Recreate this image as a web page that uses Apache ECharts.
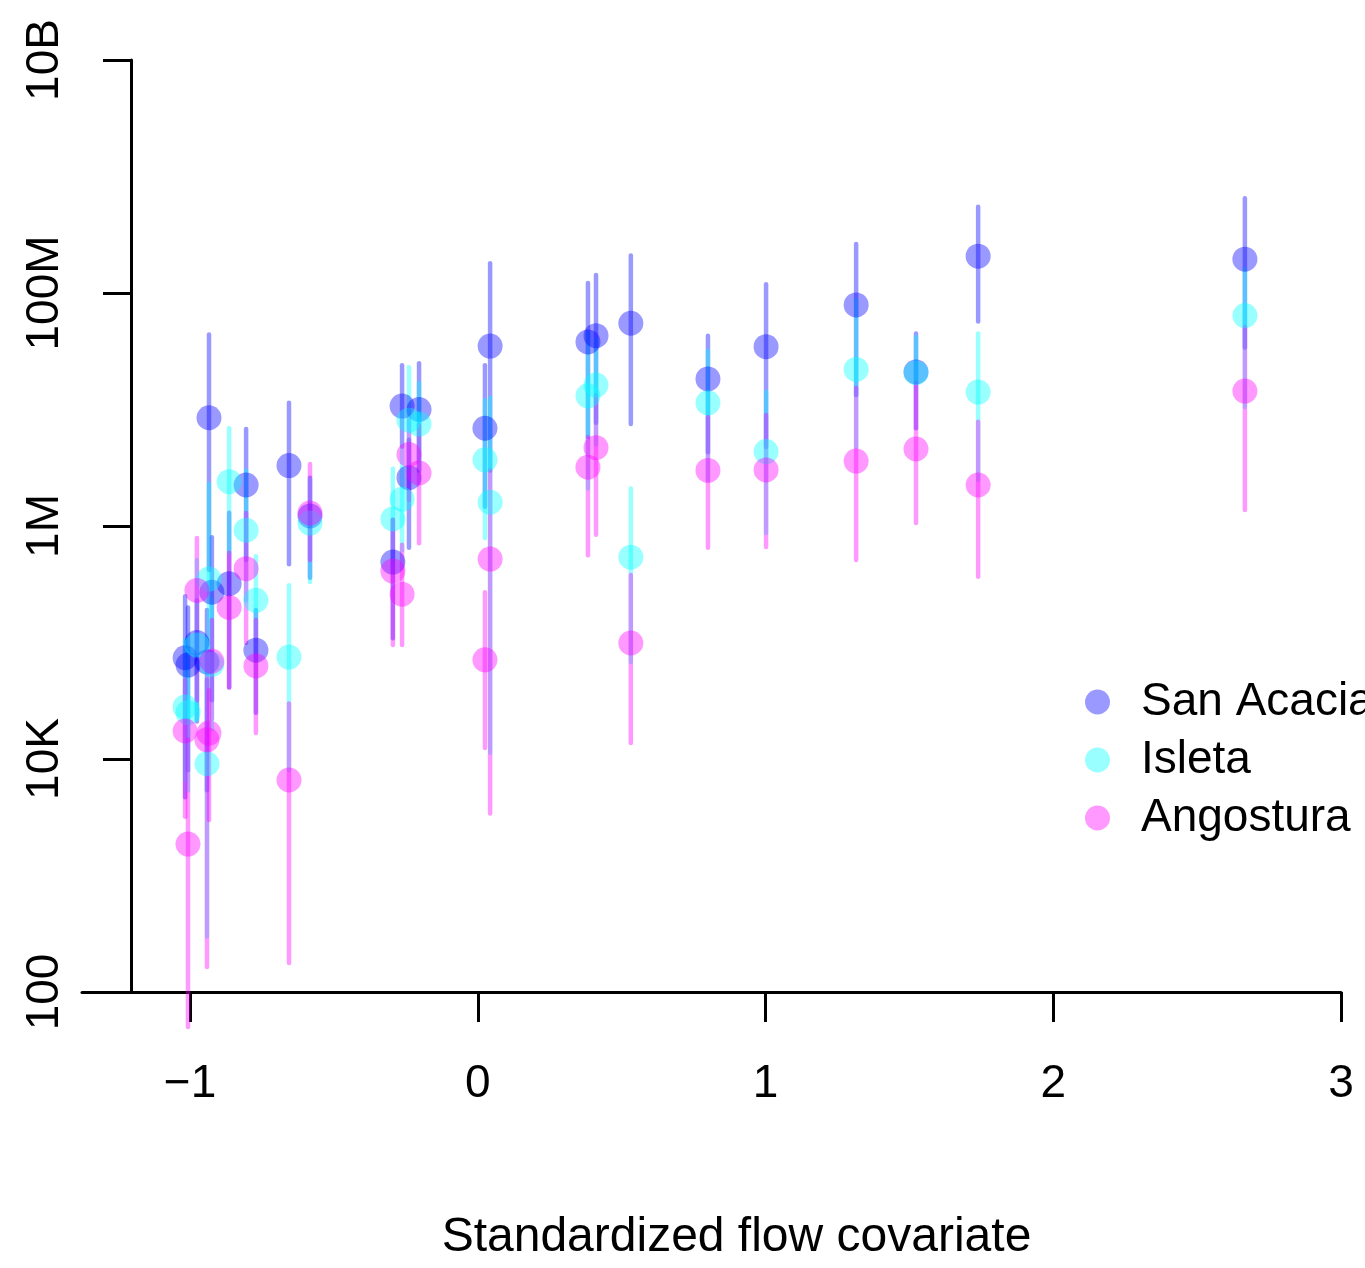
<!DOCTYPE html>
<html>
<head>
<meta charset="utf-8">
<script src="https://cdn.jsdelivr.net/npm/echarts@6/dist/echarts.min.js"></script>
<style>
html,body{margin:0;padding:0;background:#fff;}
#chart{width:1365px;height:1268px;}
</style>
</head>
<body>
<div id="chart"></div>
<script>
// Standardized flow covariate (shared x position for each year)
const flowCovariate = [-1.017, -1.007, -0.976, -0.941, -0.934, -0.924, -0.864, -0.805, -0.771, -0.656, -0.583, -0.295, -0.263, -0.239, -0.204, 0.025, 0.043, 0.383, 0.411, 0.532, 0.800, 1.002, 1.315, 1.523, 1.739, 2.666];

// San Acacia: estimate, lower and upper bound
const sanAcaciaEst = [7.4e4, 6.4e4, 1.0e5, 6.8e4, 8.5e6, 2.7e5, 3.2e5, 2.25e6, 8.6e4, 3.3e6, 1.22e6, 4.9e5, 1.07e7, 2.6e6, 1.0e7, 6.9e6, 3.5e7, 3.8e7, 4.3e7, 5.5e7, 1.83e7, 3.46e7, 7.9e7, 2.1e7, 2.07e8, 1.95e8];
const sanAcaciaLo  = [4.7e3, 8.0e3, 2.1e4, 5.4e3, 4.2e5, 3.2e4, 4.1e4, 5.1e5, 2.5e4, 4.7e5, 3.6e5, 1.09e5, 4.8e6, 6.5e5, 3.0e6, 1.46e6, 3.0e6, 5.8e6, 7.7e6, 7.5e6, 4.3e6, 4.77e6, 1.33e7, 6.9e6, 5.7e7, 3.4e7];
const sanAcaciaHi  = [2.5e5, 2.0e5, 2.3e5, 1.9e5, 4.4e7, 8.0e5, 1.3e6, 6.8e6, 1.9e5, 1.14e7, 2.6e6, 1.13e6, 2.4e7, 5.5e6, 2.5e7, 2.4e7, 1.8e8, 1.22e8, 1.43e8, 2.1e8, 4.3e7, 1.19e8, 2.64e8, 4.5e7, 5.5e8, 6.5e8];

// Isleta
const isletaEst = [2.8e4, 2.5e4, 9.5e4, 9.1e3, 3.5e5, 6.5e4, 2.4e6, 9.2e5, 2.3e5, 7.5e4, 1.06e6, 1.15e6, 1.7e6, 8.1e6, 7.5e6, 3.7e6, 1.6e6, 1.31e7, 1.62e7, 5.4e5, 1.14e7, 4.35e6, 2.21e7, 2.07e7, 1.41e7, 6.4e7];
const isletaLo  = [6.6e3, 5.4e3, 2.2e4, 3.0e2, 8.6e4, 1.8e4, 5.9e5, 2.3e5, 8.6e4, 8.0e3, 3.3e5, 5.1e5, 6.2e5, 3.0e6, 3.0e6, 7.9e5, 1.13e4, 2.1e6, 5.0e6, 6.8e4, 2.5e6, 8.7e5, 4.77e6, 1.69e7, 2.5e6, 1.05e7];
const isletaHi  = [1.05e5, 8.6e4, 5.1e5, 4.8e4, 2.3e6, 2.3e5, 6.9e6, 3.0e6, 5.5e5, 3.1e5, 2.5e6, 3.1e6, 4.5e6, 2.3e7, 1.69e7, 1.2e7, 1.26e7, 4.5e7, 3.95e7, 2.1e6, 3.2e7, 1.42e7, 8.7e7, 4.2e7, 4.5e7, 1.6e8];

// Angostura
const angosturaEst = [1.74e4, 1.86e3, 2.8e5, 1.46e4, 1.67e4, 6.9e4, 2.0e5, 4.3e5, 6.3e4, 6.6e3, 1.29e6, 4.1e5, 2.6e5, 4.1e6, 2.85e6, 7.1e4, 5.2e5, 3.2e6, 4.7e6, 9.9e4, 3.0e6, 3.03e6, 3.61e6, 4.58e6, 2.25e6, 1.44e7];
const angosturaLo  = [3.2e3, 50, 3.2e4, 1.64e2, 3.0e3, 2.2e4, 4.1e4, 9.9e4, 1.67e4, 1.77e2, 5.1e5, 9.5e4, 9.5e4, 1.67e6, 7.1e5, 1.24e4, 3.4e3, 5.6e5, 8.4e5, 1.37e4, 6.5e5, 6.6e5, 5.1e5, 1.06e6, 3.67e5, 1.37e6];
const angosturaHi  = [4.8e4, 1.46e4, 7.9e5, 4.8e4, 3.9e4, 1.56e5, 5.9e5, 1.29e6, 1.56e5, 3.0e4, 3.4e6, 1.13e6, 6.9e5, 9.9e6, 7.4e6, 2.7e5, 3.0e6, 5.8e6, 1.33e7, 3.8e5, 8.6e6, 8.97e6, 1.53e7, 1.69e7, 7.85e6, 5.1e7];

const siteNames = ['San Acacia', 'Isleta', 'Angostura'];
const siteColors = ['rgba(0,0,255,0.4)', 'rgba(0,255,255,0.4)', 'rgba(255,0,255,0.4)'];

const xTickValues = [-1, 0, 1, 2, 3];
const xTickLabels = ['\u22121', '0', '1', '2', '3'];
const yTickValues = [1e2, 1e4, 1e6, 1e8, 1e10];
const yTickLabels = ['100', '10K', '1M', '100M', '10B'];

const FONT = '"Liberation Sans", Arial, sans-serif';

const siteData = [
  [sanAcaciaEst, sanAcaciaLo, sanAcaciaHi],
  [isletaEst, isletaLo, isletaHi],
  [angosturaEst, angosturaLo, angosturaHi]
];

const series = [];
siteData.forEach((d, i) => {
  const [est, lo, hi] = d;
  const color = siteColors[i];
  series.push({
    name: siteNames[i],
    type: 'custom',
    clip: false,
    silent: true,
    data: flowCovariate.map((x, k) => [x, lo[k], hi[k]]),
    encode: { x: 0, y: [1, 2] },
    renderItem: (params, api) => {
      const p1 = api.coord([api.value(0), api.value(1)]);
      const p2 = api.coord([api.value(0), api.value(2)]);
      return {
        type: 'line',
        shape: { x1: p1[0], y1: p1[1], x2: p2[0], y2: p2[1] },
        style: { stroke: color, lineWidth: 4.5, lineCap: 'round' }
      };
    }
  });
  series.push({
    name: siteNames[i],
    type: 'scatter',
    symbol: 'circle',
    symbolSize: 25,
    itemStyle: { color: color, opacity: 1 },
    data: flowCovariate.map((x, k) => [x, est[k]])
  });
});

function yLabel(v) {
  let best = 0, bd = Infinity;
  yTickValues.forEach((t, k) => {
    const d = Math.abs(Math.log10(v) - Math.log10(t));
    if (d < bd) { bd = d; best = k; }
  });
  return yTickLabels[best];
}
function xLabel(v) {
  let best = 0, bd = Infinity;
  xTickValues.forEach((t, k) => {
    const d = Math.abs(v - t);
    if (d < bd) { bd = d; best = k; }
  });
  return xTickLabels[best];
}

const chart = echarts.init(document.getElementById('chart'), null, { renderer: 'canvas' });
chart.setOption({
  animation: false,
  backgroundColor: '#ffffff',
  textStyle: { fontFamily: FONT, color: '#000' },
  grid: { left: 82, right: 24, top: 60, bottom: 276, containLabel: false, outerBoundsMode: 'none' },
  xAxis: {
    type: 'value',
    min: -1.37533,
    max: 3,
    splitLine: { show: false },
    axisLine: { onZero: false, lineStyle: { color: '#000', width: 3 } },
    axisTick: { customValues: xTickValues, length: 30, lineStyle: { color: '#000', width: 3 } },
    axisLabel: {
      customValues: xTickValues,
      formatter: xLabel,
      margin: 69,
      fontSize: 46,
      color: '#000',
      fontFamily: FONT
    },
    name: 'Standardized flow covariate',
    nameLocation: 'middle',
    nameGap: 222,
    nameTextStyle: { fontSize: 48, color: '#000', fontFamily: FONT, padding: [0, 0, 0, 50] }
  },
  yAxis: {
    type: 'log',
    logBase: 10,
    min: 1e2,
    max: 1e10,
    splitNumber: 8,
    offset: -49,
    splitLine: { show: false },
    minorTick: { show: false },
    axisLine: { show: true, onZero: false, lineStyle: { color: '#000', width: 3 } },
    axisTick: { show: true, customValues: yTickValues, length: 28, lineStyle: { color: '#000', width: 3 } },
    axisLabel: {
      customValues: yTickValues,
      rotate: 90,
      formatter: yLabel,
      margin: 63,
      fontSize: 46,
      color: '#000',
      fontFamily: FONT,
      showMinLabel: true,
      showMaxLabel: true
    }
  },
  legend: {
    orient: 'vertical',
    left: 1080,
    top: 668,
    itemWidth: 25,
    itemHeight: 25,
    itemGap: 0,
    icon: 'circle',
    selectedMode: false,
    data: siteNames.map((n, i) => ({ name: n, icon: 'circle', itemStyle: { color: siteColors[i] } })),
    textStyle: { fontSize: 46, lineHeight: 58, color: '#000', fontFamily: FONT, padding: [0, 0, 0, 26] }
  },
  series: series
});
</script>
</body>
</html>
